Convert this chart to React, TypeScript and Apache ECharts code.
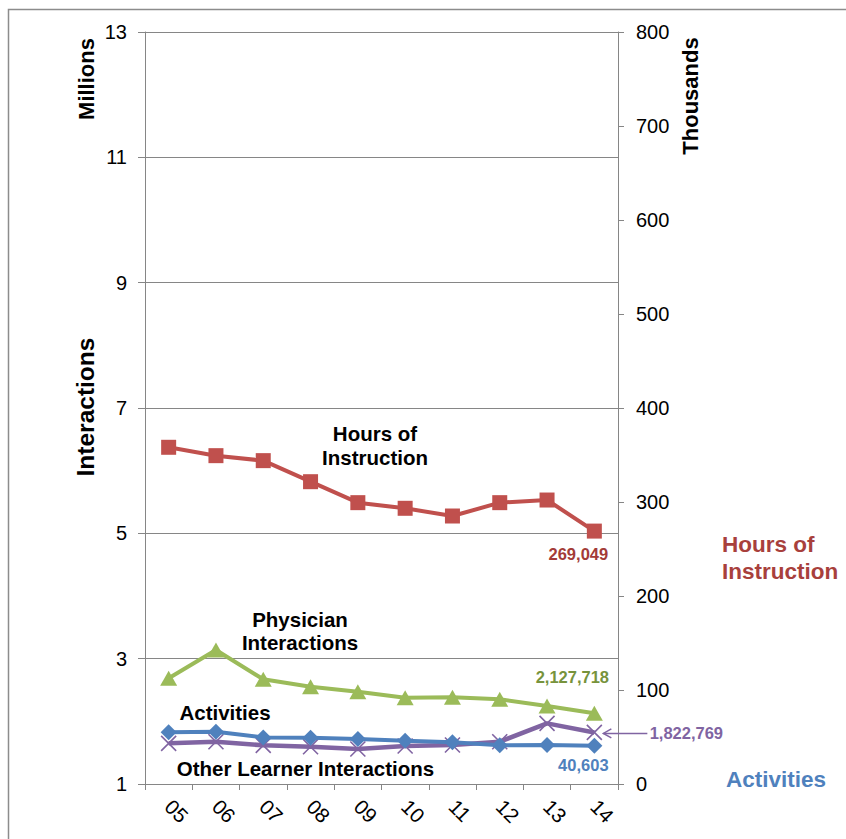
import React, { useEffect, useRef } from 'react';
import * as echarts from 'echarts';

const FONT = "'Liberation Sans', Arial, Helvetica, sans-serif";

const categories = ['05', '06', '07', '08', '09', '10', '11', '12', '13', '14'];
// right axis, thousands
const hoursOfInstruction = [358.2, 349.3, 344.0, 321.6, 299.3, 293.3, 285.1, 299.3, 302.1, 269.049];
const activities = [55.0, 55.7, 49.6, 49.3, 47.9, 46.1, 44.3, 41.1, 41.5, 40.603];
// left axis, millions
const physicianInteractions = [2.687, 3.138, 2.671, 2.553, 2.473, 2.377, 2.383, 2.351, 2.245, 2.127718];
const otherLearner = [1.649, 1.675, 1.617, 1.595, 1.558, 1.606, 1.622, 1.675, 1.968, 1.822769];

const leftTicks = [1, 3, 5, 7, 9, 11, 13];
const lastLabels = {
  hours: '269,049',
  physician: '2,127,718',
  other: '1,822,769',
  activities: '40,603',
};

const AXIS = '#868686';
const RED = '#C0504D';
const GREEN = '#9BBB59';
const BLUE = '#4F81BD';
const PURPLE = '#8064A2';

function withLastLabel(values: number[], text: string, color: string, offset: number[]) {
  return values.map((v, i) =>
    i === values.length - 1
      ? {
          value: v,
          label: {
            show: true,
            position: 'inside',
            offset,
            formatter: text,
            color,
            fontFamily: FONT,
            fontWeight: 'bold',
            fontSize: 16.5,
          },
        }
      : v
  );
}

function txt(text: string, x: number, y: number, size: number, color: string, align = 'center', lineHeight?: number, rotation = 0) {
  return {
    type: 'text',
    x,
    y,
    rotation,
    z: 20,
    style: {
      text,
      x: 0,
      y: 0,
      fill: color,
      fontFamily: FONT,
      fontWeight: 'bold',
      fontSize: size,
      align,
      verticalAlign: 'middle',
      textAlign: align,
      textVerticalAlign: 'middle',
      lineHeight: lineHeight || size * 1.2,
    },
  };
}

export default function App() {
  const ref = useRef<HTMLDivElement>(null);
  useEffect(() => {
    const chart = echarts.init(ref.current!, null, { renderer: 'svg' });
    const baseGraphics: any[] = [
      {
        type: 'rect',
        z: 0,
        shape: { x: 8.5, y: 9.5, width: 900, height: 900 },
        style: { fill: 'none', stroke: '#8c8c8c', lineWidth: 1.5 },
      },
      txt('Millions', 86, 79, 22, '#000', 'center', undefined, Math.PI / 2),
      txt('Interactions', 85, 407, 24.5, '#000', 'center', undefined, Math.PI / 2),
      txt('Thousands', 690, 96, 22, '#000', 'center', undefined, Math.PI / 2),
      txt('Hours of\nInstruction', 375, 445, 20.5, '#000', 'center', 24),
      txt('Physician\nInteractions', 300, 631, 20.5, '#000', 'center', 23.5),
      txt('Activities', 225, 712, 20.5, '#000', 'center'),
      txt('Other Learner Interactions', 305.5, 768, 20.5, '#000', 'center'),
      txt('Hours of\nInstruction', 722, 557.5, 22.5, '#A8403C', 'left', 27),
      txt('Activities', 726, 779, 22.5, BLUE, 'left'),
    ];
    const option: any = {
      animation: false,
      backgroundColor: '#fff',
      grid: { left: 145, top: 32, width: 473, height: 752, containLabel: false },
      xAxis: {
        type: 'category',
        data: categories,
        boundaryGap: true,
        axisLine: { show: true, lineStyle: { color: AXIS, width: 1 } },
        axisTick: { show: true, length: 6, lineStyle: { color: AXIS } },
        axisLabel: {
          rotate: -45,
          margin: 19,
          color: '#000',
          fontFamily: FONT,
          fontSize: 20.5,
        },
        splitLine: { show: false },
      },
      yAxis: [
        {
          type: 'value',
          position: 'left',
          min: 1,
          max: 13,
          axisLine: { show: true, lineStyle: { color: AXIS, width: 1 } },
          axisTick: { show: true, length: 7, lineStyle: { color: AXIS }, customValues: leftTicks },
          axisLabel: { margin: 18, color: '#000', fontFamily: FONT, fontSize: 20, customValues: leftTicks },
          splitLine: { show: true, lineStyle: { color: AXIS, width: 1 } },
        },
        {
          type: 'value',
          position: 'right',
          min: 0,
          max: 800,
          interval: 100,
          axisLine: { show: true, lineStyle: { color: AXIS, width: 1 } },
          axisTick: { show: true, length: 6, lineStyle: { color: AXIS } },
          axisLabel: { margin: 18, color: '#000', fontFamily: FONT, fontSize: 20 },
          splitLine: { show: false },
        },
      ],
      series: [
        {
          name: 'Hours of Instruction',
          type: 'line',
          yAxisIndex: 1,
          data: withLastLabel(hoursOfInstruction, lastLabels.hours, '#A33B38', [-16, 23]),
          symbol: 'rect',
          symbolSize: 15,
          lineStyle: { color: RED, width: 4 },
          itemStyle: { color: RED },
          z: 3,
        },
        {
          name: 'Physician Interactions',
          type: 'line',
          yAxisIndex: 0,
          data: withLastLabel(physicianInteractions, lastLabels.physician, '#77933C', [-22, -36]),
          symbol: 'triangle',
          symbolSize: [17, 15],
          lineStyle: { color: GREEN, width: 4 },
          itemStyle: { color: GREEN },
          z: 3,
        },
        {
          name: 'Other Learner Interactions',
          type: 'line',
          yAxisIndex: 0,
          data: withLastLabel(otherLearner, lastLabels.other, PURPLE, [92, 1]),
          symbol: 'path://M0 0L10 10M10 0L0 10',
          symbolSize: 15,
          lineStyle: { color: PURPLE, width: 4.5 },
          itemStyle: { color: PURPLE, borderColor: PURPLE, borderWidth: 1.6 },
          z: 3,
        },
        {
          name: 'Activities',
          type: 'line',
          yAxisIndex: 1,
          data: withLastLabel(activities, lastLabels.activities, BLUE, [-11, 19]),
          symbol: 'diamond',
          symbolSize: 16,
          lineStyle: { color: BLUE, width: 4 },
          itemStyle: { color: BLUE },
          z: 4,
        },
      ],
      graphic: baseGraphics,
    };
    chart.setOption(option);

    const last = categories.length - 1;
    const p = chart.convertToPixel({ xAxisIndex: 0, yAxisIndex: 0 }, [last, otherLearner[last]]) as number[];
    if (p && isFinite(p[0])) {
      const y = p[1] + 1;
      const tip = p[0] + 9;
      const arrow: any[] = [
        {
          type: 'line',
          z: 20,
          shape: { x1: tip, y1: y, x2: p[0] + 53, y2: y },
          style: { stroke: PURPLE, lineWidth: 1.5 },
        },
        {
          type: 'polyline',
          z: 20,
          shape: { points: [[tip + 8, y - 4.5], [tip, y], [tip + 8, y + 4.5]] },
          style: { stroke: PURPLE, lineWidth: 1.5, fill: 'none' },
        },
      ];
      chart.setOption({ graphic: baseGraphics.concat(arrow) });
    }
    return () => chart.dispose();
  }, []);
  return (
    <div
      ref={ref}
      style={{ position: 'fixed', left: 0, top: 0, width: 846, height: 839, background: '#fff' }}
    />
  );
}
